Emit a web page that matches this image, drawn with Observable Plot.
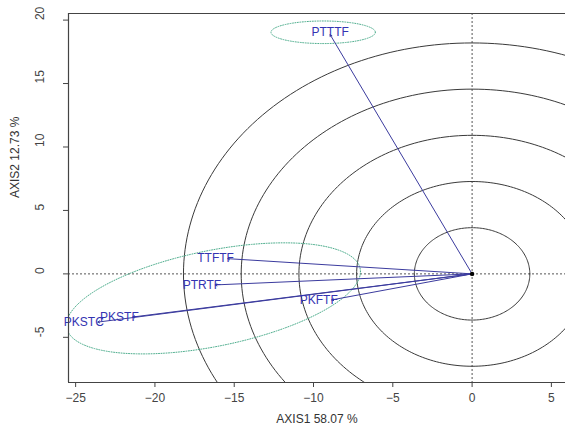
<!DOCTYPE html>
<html>
<head>
<meta charset="utf-8">
<script src="https://cdn.jsdelivr.net/npm/d3@7"></script>
<script src="https://cdn.jsdelivr.net/npm/@observablehq/plot@0.6"></script>
<style>
  html, body { margin: 0; padding: 0; background: #fff; }
  svg { display: block; }
</style>
</head>
<body>
<div id="chart"></div>
<script>
// ---- data ----
const labels = ["PTTTF", "TTFTF", "PTRTF", "PKFTF", "PKSTF", "PKSTC"];
const axis1 = [-8.95, -15.4, -16.2, -8.85, -21.4, -23.6];
const axis2 = [18.85, 1.2, -0.87, -2.05, -3.4, -3.8];

const circleRadii = [3.64, 7.28, 10.92, 14.56, 18.2];

// ellipses: center x, center y, x semi-extent, y shift at x extreme, y residual semi-axis
const ellCx = [-16.31, -9.39];
const ellCy = [-1.93, 19.04];
const ellA = [9.27, 3.29];
const ellC = [2.1, 0];
const ellD = [3.84, 0.89];

const xTicks = [-25, -20, -15, -10, -5, 0, 5];
const yTicks = [-5, 0, 5, 10, 15, 20];
const xDomain = [-25.45, 5.89];
const yDomain = [-8.56, 20.52];
const xLabel = "AXIS1 58.07 %";
const yLabel = "AXIS2 12.73 %";

// ---- build tables ----
const points = labels.map((l, i) => ({label: l, x: axis1[i], y: axis2[i]}));
const N = 240;
const circles = [];
circleRadii.forEach((r, k) => {
  for (let i = 0; i <= N; i++) {
    const t = (i / N) * 2 * Math.PI;
    circles.push({k, x: r * Math.cos(t), y: r * Math.sin(t)});
  }
});
const ellipses = [];
ellCx.forEach((cx, k) => {
  for (let i = 0; i <= N; i++) {
    const t = (i / N) * 2 * Math.PI;
    ellipses.push({k, x: cx + ellA[k] * Math.cos(t), y: ellCy[k] + ellC[k] * Math.cos(t) + ellD[k] * Math.sin(t)});
  }
});
const upper = points.filter(d => d.y > 5);
const sideways = points.filter(d => d.y <= 5);

const font = "'Liberation Sans', Arial, Helvetica, sans-serif";
const axisColor = "#444";
const labelColor = "#3434b2";

const chart = Plot.plot({
  width: 566,
  height: 428,
  marginLeft: 68,
  marginRight: 1,
  marginTop: 13,
  marginBottom: 46,
  style: {fontFamily: font, fontSize: "12px", color: axisColor, background: "#fff"},
  x: {domain: xDomain, ticks: xTicks},
  y: {domain: yDomain, ticks: yTicks},
  marks: [
    // dotted reference axes
    Plot.ruleX([0], {stroke: "#555", strokeDasharray: "2,2", strokeWidth: 1}),
    Plot.ruleY([0], {stroke: "#555", strokeDasharray: "2,2", strokeWidth: 1}),
    // concentric circles
    Plot.line(circles, {x: "x", y: "y", z: "k", stroke: "#3a3a3a", strokeWidth: 1, clip: true}),
    // group ellipses
    Plot.line(ellipses, {x: "x", y: "y", z: "k", stroke: "#4fae8e", strokeWidth: 1, strokeDasharray: "1,1.5", clip: true}),
    // arrows
    Plot.arrow(points, {x1: () => 0, y1: () => 0, x2: "x", y2: "y", stroke: "#3b3b9e", strokeWidth: 1, headLength: 3, clip: true}),
    Plot.dot([0], {x: () => 0, y: () => 0, r: 2.2, fill: "#000"}),
    // labels
    Plot.text(upper, {x: "x", y: "y", text: "label", fill: labelColor, fontSize: 12, dy: -3}),
    Plot.text(sideways, {x: "x", y: "y", text: "label", fill: labelColor, fontSize: 12, textAnchor: "end", dx: 6}),
    // frame (left, top, bottom)
    Plot.ruleX([xDomain[0]], {stroke: axisColor, strokeWidth: 1.2}),
    Plot.ruleY([yDomain[0], yDomain[1]], {stroke: axisColor, strokeWidth: 1.2}),
    // axes
    Plot.axisX({ticks: xTicks, tickSize: 5, tickPadding: 6, label: null, fontSize: 12, stroke: axisColor, fill: "#444"}),
    Plot.axisY({ticks: yTicks, tickSize: 5, tickFormat: () => "", label: null, stroke: axisColor}),
    Plot.text(yTicks, {y: d => d, text: d => String(d), frameAnchor: "left", dx: -28, rotate: -90, fill: "#444", fontSize: 12}),
    Plot.text([xLabel], {frameAnchor: "bottom", dy: 40, text: d => d, fill: "#333", fontSize: 12}),
    Plot.text([yLabel], {frameAnchor: "left", dx: -53, rotate: -90, text: d => d, fill: "#333", fontSize: 12})
  ]
});
document.getElementById("chart").append(chart);
</script>
</body>
</html>
